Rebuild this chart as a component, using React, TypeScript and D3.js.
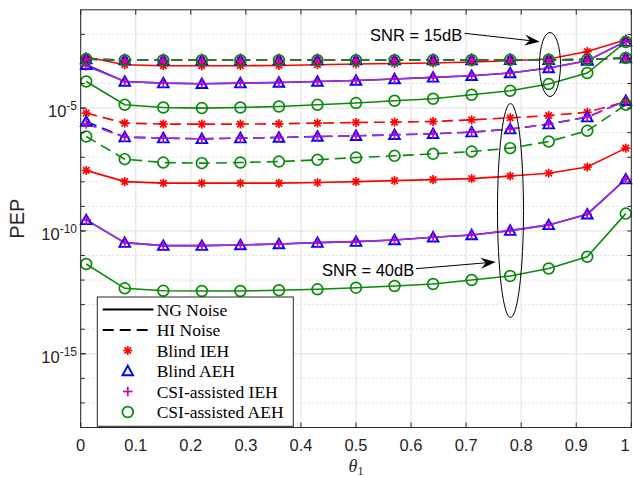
import React from 'react';
import * as d3 from 'd3';

// theta_1 sample points
const theta = [0.01, 0.08, 0.15, 0.22, 0.29, 0.36, 0.43, 0.5, 0.57, 0.64, 0.71, 0.78, 0.85, 0.92, 0.99];

// SNR = 15dB, NG noise
const ng15BlindIEH = [1.2e-3, 5.8e-4, 5.3e-4, 5.3e-4, 5.3e-4, 5.4e-4, 5.8e-4, 6.2e-4, 6.5e-4, 6.8e-4, 7.5e-4, 8.5e-4, 9.9e-4, 2.0e-3, 6.1e-3];
const ng15BlindAEH = [5.8e-4, 1.21e-4, 1.04e-4, 9.8e-5, 1.04e-4, 1.1e-4, 1.21e-4, 1.33e-4, 1.52e-4, 1.77e-4, 2.07e-4, 2.67e-4, 4.27e-4, 8.5e-4, 5.2e-3];
const ng15CsiIEH = [5.2e-4, 1.21e-4, 1.04e-4, 9.8e-5, 1.04e-4, 1.1e-4, 1.21e-4, 1.33e-4, 1.52e-4, 1.77e-4, 2.07e-4, 2.67e-4, 4.27e-4, 8.5e-4, 5.2e-3];
const ng15CsiAEH = [1.21e-4, 1.36e-5, 1.06e-5, 1.0e-5, 1.06e-5, 1.16e-5, 1.36e-5, 1.6e-5, 1.98e-5, 2.39e-5, 3.48e-5, 5.07e-5, 9.5e-5, 2.67e-4, 4.9e-3];

// SNR = 15dB, HI noise (all schemes overlap)
const hi15All = [9.9e-4, 8.9e-4, 8.9e-4, 8.9e-4, 8.9e-4, 8.9e-4, 8.9e-4, 8.9e-4, 8.9e-4, 9.0e-4, 9.1e-4, 9.2e-4, 9.3e-4, 9.4e-4, 1.09e-3];

// SNR = 40dB, HI noise
const hi40BlindIEH = [6.25e-6, 2.45e-6, 2.23e-6, 2.23e-6, 2.23e-6, 2.29e-6, 2.45e-6, 2.59e-6, 2.69e-6, 2.84e-6, 3.33e-6, 4.03e-6, 4.95e-6, 6.74e-6, 1.81e-5];
const hi40BlindAEH = [2.84e-6, 6.58e-7, 6.0e-7, 5.6e-7, 6.0e-7, 6.34e-7, 6.97e-7, 7.43e-7, 8.17e-7, 8.97e-7, 1.05e-6, 1.39e-6, 2.23e-6, 4.3e-6, 1.98e-5];
const hi40CsiIEH = [2.29e-6, 6.58e-7, 6.0e-7, 5.6e-7, 6.0e-7, 6.34e-7, 6.97e-7, 7.43e-7, 8.17e-7, 8.97e-7, 1.05e-6, 1.39e-6, 2.23e-6, 4.3e-6, 1.98e-5];
const hi40CsiAEH = [6.97e-7, 8.35e-8, 6.07e-8, 5.74e-8, 6.07e-8, 6.67e-8, 7.82e-8, 9.7e-8, 1.14e-7, 1.37e-7, 1.7e-7, 2.34e-7, 4.35e-7, 1.19e-6, 1.36e-5];

// SNR = 40dB, NG noise
const ng40BlindIEH = [2.92e-8, 1.02e-8, 8.8e-9, 8.8e-9, 8.8e-9, 8.8e-9, 9.3e-9, 1.02e-8, 1.12e-8, 1.23e-8, 1.35e-8, 1.71e-8, 2.24e-8, 3.98e-8, 2.34e-7];
const ng40BlindAEH = [2.81e-10, 3.33e-11, 2.52e-11, 2.52e-11, 2.69e-11, 2.95e-11, 3.33e-11, 3.66e-11, 4.3e-11, 5.53e-11, 6.87e-11, 1.03e-10, 1.76e-10, 4.8e-10, 1.28e-8];
const ng40CsiIEH = ng40BlindAEH;
const ng40CsiAEH = [4.52e-12, 4.62e-13, 3.66e-13, 3.59e-13, 3.59e-13, 3.84e-13, 4.21e-13, 4.9e-13, 5.74e-13, 6.92e-13, 1.01e-12, 1.47e-12, 2.96e-12, 8.9e-12, 5.07e-10];

const xTicks = [0, 0.1, 0.2, 0.3, 0.4, 0.5, 0.6, 0.7, 0.8, 0.9, 1];
const yMajor = [-5, -10, -15];
const legendLabels = ['NG Noise', 'HI Noise', 'Blind IEH', 'Blind AEH', 'CSI-assisted IEH', 'CSI-assisted AEH'];

const RED = '#ff0000';
const BLUE = '#0000ff';
const PURPLE = '#a62fd4';
const MAGENTA = '#c400c4';
const GREEN = '#0a8a0a';

type Scheme = 'bIEH' | 'bAEH' | 'cIEH' | 'cAEH';
const schemeColor: Record<Scheme, string> = { bIEH: RED, bAEH: BLUE, cIEH: PURPLE, cAEH: GREEN };
const markerColor: Record<Scheme, string> = { bIEH: RED, bAEH: BLUE, cIEH: MAGENTA, cAEH: GREEN };

const series: { values: number[]; scheme: Scheme; dashed: boolean }[] = [
  { values: ng15BlindIEH, scheme: 'bIEH', dashed: false },
  { values: ng15BlindAEH, scheme: 'bAEH', dashed: false },
  { values: ng15CsiIEH, scheme: 'cIEH', dashed: false },
  { values: ng15CsiAEH, scheme: 'cAEH', dashed: false },
  { values: hi15All, scheme: 'bIEH', dashed: true },
  { values: hi15All, scheme: 'bAEH', dashed: true },
  { values: hi15All, scheme: 'cIEH', dashed: true },
  { values: hi15All, scheme: 'cAEH', dashed: true },
  { values: ng40BlindIEH, scheme: 'bIEH', dashed: false },
  { values: ng40BlindAEH, scheme: 'bAEH', dashed: false },
  { values: ng40CsiIEH, scheme: 'cIEH', dashed: false },
  { values: ng40CsiAEH, scheme: 'cAEH', dashed: false },
  { values: hi40BlindIEH, scheme: 'bIEH', dashed: true },
  { values: hi40BlindAEH, scheme: 'bAEH', dashed: true },
  { values: hi40CsiIEH, scheme: 'cIEH', dashed: true },
  { values: hi40CsiAEH, scheme: 'cAEH', dashed: true },
];

const W = 633, H = 477;
const L = 80.7, R = 631.3, T = 9.8, B = 427.5;

const x = d3.scaleLinear().domain([0, 1]).range([L, R]);
const y = d3.scaleLog().domain([1e-18, 1e-1]).range([B, T]);

function Marker({ scheme, cx, cy }: { scheme: Scheme; cx: number; cy: number }) {
  const c = markerColor[scheme];
  if (scheme === 'bIEH') {
    const s = 4.5, d = 3.2;
    return (
      <g stroke={c} strokeWidth={1.7}>
        <line x1={cx - s} y1={cy} x2={cx + s} y2={cy} />
        <line x1={cx} y1={cy - s} x2={cx} y2={cy + s} />
        <line x1={cx - d} y1={cy - d} x2={cx + d} y2={cy + d} />
        <line x1={cx - d} y1={cy + d} x2={cx + d} y2={cy - d} />
      </g>
    );
  }
  if (scheme === 'bAEH') {
    const s = 5.3;
    return <polygon points={`${cx},${cy - s} ${cx + s},${cy + s * 0.8} ${cx - s},${cy + s * 0.8}`} fill="none" stroke={c} strokeWidth={1.9} />;
  }
  if (scheme === 'cIEH') {
    const s = 4.8;
    return (
      <g stroke={c} strokeWidth={1.7}>
        <line x1={cx - s} y1={cy} x2={cx + s} y2={cy} />
        <line x1={cx} y1={cy - s} x2={cx} y2={cy + s} />
      </g>
    );
  }
  return <circle cx={cx} cy={cy} r={5.4} fill="none" stroke={c} strokeWidth={1.7} />;
}

function Arrow({ x1, y1, x2, y2 }: { x1: number; y1: number; x2: number; y2: number }) {
  const ang = Math.atan2(y2 - y1, x2 - x1);
  const len = 15, hw = 5.5, notch = 10;
  const ux = Math.cos(ang), uy = Math.sin(ang);
  const bx = x2 - ux * len, by = y2 - uy * len;
  const nx = x2 - ux * notch, ny = y2 - uy * notch;
  const pts = `${x2},${y2} ${bx - uy * hw},${by + ux * hw} ${nx},${ny} ${bx + uy * hw},${by - ux * hw}`;
  return (
    <g>
      <line x1={x1} y1={y1} x2={nx} y2={ny} stroke="#000" strokeWidth={1} />
      <polygon points={pts} fill="#000" />
    </g>
  );
}

export default function App() {
  const line = d3.line<number>().x((_, i) => x(theta[i])).y((d) => y(d));
  const decades = d3.range(-17, -1);
  const font = '"Liberation Sans", Arial, sans-serif';
  const serif = '"Liberation Serif", "Times New Roman", serif';
  const legX = 97.3, legY = 297, legW = 196, legH = 129.3;
  const rowY = (i: number) => 309.5 + i * 20.5;

  return (
    <svg width={W} height={H} style={{ position: 'absolute', left: 0, top: 0, background: '#fff' }}>
      <rect x={0} y={0} width={W} height={H} fill="#fff" />
      {/* grid */}
      {decades.map((e) =>
        yMajor.includes(e) ? null : (
          <line key={'mg' + e} x1={L} x2={R} y1={y(Math.pow(10, e))} y2={y(Math.pow(10, e))} stroke="#c4c4c4" strokeWidth={1} strokeDasharray="1 3" />
        )
      )}
      {yMajor.map((e) => (
        <line key={'g' + e} x1={L} x2={R} y1={y(Math.pow(10, e))} y2={y(Math.pow(10, e))} stroke="#e0e0e0" strokeWidth={1} />
      ))}
      {xTicks.map((t) => (
        <line key={'gx' + t} x1={x(t)} x2={x(t)} y1={T} y2={B} stroke="#e0e0e0" strokeWidth={1} />
      ))}

      {/* curves */}
      {series.map((s, k) => (
        <path key={'l' + k} d={line(s.values) || ''} fill="none" stroke={schemeColor[s.scheme]} strokeWidth={1.6} strokeDasharray={s.dashed ? '11 6' : undefined} />
      ))}
      {series.map((s, k) => (
        <g key={'m' + k}>
          {s.values.map((v, i) => (
            <Marker key={i} scheme={s.scheme} cx={x(theta[i])} cy={y(v)} />
          ))}
        </g>
      ))}

      {/* frame and ticks */}
      <rect x={L} y={T} width={R - L} height={B - T} fill="none" stroke="#262626" strokeWidth={1} />
      {xTicks.map((t) => (
        <g key={'tx' + t} stroke="#262626">
          <line x1={x(t)} x2={x(t)} y1={B} y2={B - 5} />
          <line x1={x(t)} x2={x(t)} y1={T} y2={T + 5} />
        </g>
      ))}
      {decades.map((e) => (
        <g key={'ty' + e} stroke="#262626">
          <line x1={L} x2={L + 4} y1={y(Math.pow(10, e))} y2={y(Math.pow(10, e))} />
          <line x1={R} x2={R - 4} y1={y(Math.pow(10, e))} y2={y(Math.pow(10, e))} />
        </g>
      ))}
      {yMajor.map((e) => (
        <line key={'tyM' + e} x1={L} x2={L + 5.5} y1={y(Math.pow(10, e))} y2={y(Math.pow(10, e))} stroke="#262626" />
      ))}

      {/* tick labels */}
      {xTicks.map((t) => (
        <text key={'lx' + t} x={Math.min(x(t), 625)} y={451} textAnchor="middle" fontFamily={font} fontSize={16.5} fill="#262626">
          {d3.format('~g')(t)}
        </text>
      ))}
      {yMajor.map((e) => (
        <text key={'ly' + e} x={77} y={y(Math.pow(10, e)) + 9} textAnchor="end" fontFamily={font} fontSize={16.5} fill="#262626">
          10
          <tspan dy={-7} fontSize={12}>{'-' + Math.abs(e)}</tspan>
        </text>
      ))}

      {/* axis labels */}
      <text transform={`translate(24, ${(T + B) / 2}) rotate(-90)`} textAnchor="middle" fontFamily={font} fontSize={20} fill="#262626">
        PEP
      </text>
      <text x={356} y={472} textAnchor="middle" fontFamily={serif} fontSize={18} fill="#262626">
        <tspan fontStyle="italic">θ</tspan>
        <tspan fontSize={12} dy={3}>1</tspan>
      </text>

      {/* annotations */}
      <ellipse cx={550} cy={64.5} rx={10.5} ry={32} fill="none" stroke="#000" strokeWidth={1} />
      <ellipse cx={510.5} cy={210.5} rx={13} ry={107} fill="none" stroke="#000" strokeWidth={1} />
      <text x={370} y={41} fontFamily={font} fontSize={16.5} fill="#000">SNR = 15dB</text>
      <Arrow x1={464.5} y1={33.3} x2={539.7} y2={41.7} />
      <text x={322} y={276} fontFamily={font} fontSize={16.5} fill="#000">SNR = 40dB</text>
      <Arrow x1={416} y1={268.7} x2={495.7} y2={262} />

      {/* legend */}
      <rect x={legX} y={legY} width={legW} height={legH} fill="#fff" stroke="#262626" strokeWidth={1} />
      <line x1={102.7} x2={153.3} y1={rowY(0)} y2={rowY(0)} stroke="#000" strokeWidth={1.8} />
      <line x1={102.7} x2={153.3} y1={rowY(1)} y2={rowY(1)} stroke="#000" strokeWidth={1.8} strokeDasharray="11 6" />
      {(['bIEH', 'bAEH', 'cIEH', 'cAEH'] as Scheme[]).map((s, i) => (
        <Marker key={'lg' + s} scheme={s} cx={127.8} cy={rowY(i + 2)} />
      ))}
      {legendLabels.map((lab, i) => (
        <text key={'lt' + i} x={156.7} y={rowY(i) + 6} fontFamily={serif} fontSize={17.5} fill="#000">
          {lab}
        </text>
      ))}
    </svg>
  );
}
